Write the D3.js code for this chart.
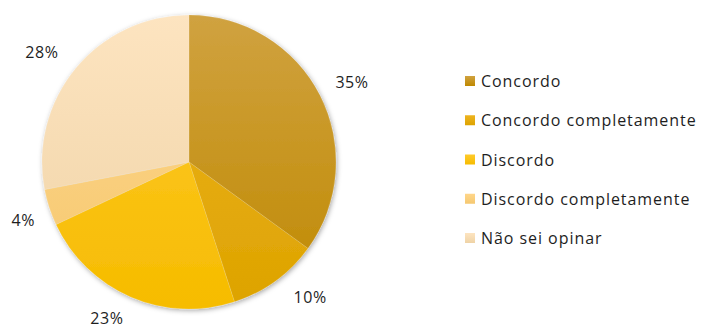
<!DOCTYPE html>
<html>
<head>
<meta charset="utf-8">
<script src="https://cdn.jsdelivr.net/npm/d3@7"></script>
<style>
  body { margin: 0; background: #fff; }
  svg { display: block; }
  text { font-family: "Open Sans", "Noto Sans", sans-serif; fill: #1e1e1e; }
</style>
</head>
<body>
<svg id="chart" width="704" height="329"></svg>
<script>
// Survey answers (share of respondents, %)
const categories = ["Concordo", "Concordo completamente", "Discordo", "Discordo completamente", "Não sei opinar"];
const values = [35, 10, 23, 4, 28];
const labels = ["35%", "10%", "23%", "4%", "28%"];
// Light (top) and dark (bottom) shade of each slice
const colorsTop = ["#d0a240", "#eeb420", "#ffca2c", "#ffd68a", "#fde4c0"];
const colorsBottom = ["#bf8900", "#dda300", "#f6bc00", "#f5c870", "#efd3a6"];

const svg = d3.select("#chart");
const cx = 189, cy = 162, r = 147;

const defs = svg.append("defs");
const shadow = defs.append("filter").attr("id", "shadow")
  .attr("x", "-10%").attr("y", "-10%").attr("width", "120%").attr("height", "120%");
shadow.append("feDropShadow").attr("dx", 1).attr("dy", 1.5)
  .attr("stdDeviation", 2.5).attr("flood-color", "#000").attr("flood-opacity", 0.35);

categories.forEach((c, i) => {
  const g = defs.append("linearGradient").attr("id", "grad" + i)
    .attr("gradientUnits", "userSpaceOnUse")
    .attr("x1", 0).attr("y1", -r).attr("x2", 0).attr("y2", r);
  g.append("stop").attr("offset", "0%").attr("stop-color", colorsTop[i]);
  g.append("stop").attr("offset", "100%").attr("stop-color", colorsBottom[i]);
  const lg = defs.append("linearGradient").attr("id", "lg" + i)
    .attr("x1", 0).attr("y1", 0).attr("x2", 0).attr("y2", 1);
  lg.append("stop").attr("offset", "0%").attr("stop-color", colorsTop[i]);
  lg.append("stop").attr("offset", "100%").attr("stop-color", colorsBottom[i]);
});

const pie = d3.pie().sort(null).value(d => d)(values);
const arc = d3.arc().innerRadius(0).outerRadius(r);

const g = svg.append("g").attr("transform", `translate(${cx},${cy})`);
g.append("g").attr("filter", "url(#shadow)")
  .selectAll("path").data(pie).join("path")
  .attr("d", arc)
  .attr("fill", (d, i) => `url(#grad${i})`)
  .attr("stroke", "rgba(255,255,255,0.25)")
  .attr("stroke-width", 0.5);

// Percentage labels placed just outside each slice (radius factor, angle nudge in degrees)
const labelRadius = [1.235, 1.235, 1.2, 1.195, 1.25];
const labelNudge = [0.9, -5.9, 4.3, -1.3, -2.8];
g.selectAll("text.pct").data(pie).join("text")
  .attr("class", "pct")
  .attr("transform", (d, i) => {
    const a = (d.startAngle + d.endAngle) / 2 + labelNudge[i] * Math.PI / 180;
    const rr = r * labelRadius[i];
    return `translate(${Math.sin(a) * rr},${-Math.cos(a) * rr})`;
  })
  .attr("text-anchor", "middle")
  .attr("dominant-baseline", "central")
  .style("font-size", "16px")
  .style("letter-spacing", "0.6px")
  .text((d, i) => labels[i]);

// Legend
const legendY = d3.scalePoint().domain(categories).range([81, 238]);
const rows = svg.append("g").selectAll("g").data(categories).join("g")
  .attr("transform", d => `translate(465,${legendY(d)})`);
rows.append("rect").attr("x", 0).attr("y", -5).attr("width", 10).attr("height", 10)
  .attr("fill", (d, i) => `url(#lg${i})`);
rows.append("text").attr("x", 16).attr("y", 0)
  .attr("dominant-baseline", "central")
  .style("font-size", "16px")
  .style("letter-spacing", "0.95px")
  .text(d => d);
</script>
</body>
</html>
